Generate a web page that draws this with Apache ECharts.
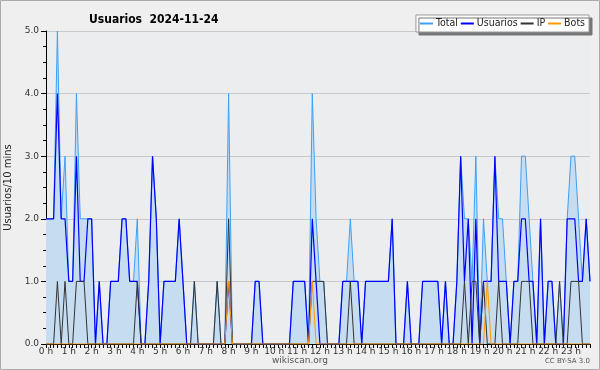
<!DOCTYPE html>
<html>
<head>
<meta charset="utf-8">
<script src="https://cdn.jsdelivr.net/npm/echarts@6/dist/echarts.min.js"></script>
<style>
html, body { margin: 0; padding: 0; background: #efefef; }
#main { width: 600px; height: 370px; }
</style>
</head>
<body>
<div id="main"></div>
<script>
// valores cada 10 minutos (144 puntos, 0:00 -> 23:50)
var total = [2,2,2,5,2,3,1,1,4,2,2,2,2,0,1,0,0,1,1,1,2,2,1,1,
             2,0,0,1,3,2,0,1,1,1,1,2,1,0,0,1,0,0,0,0,0,1,0,0,
             4,0,0,0,0,0,0,1,1,0,0,0,0,0,0,0,0,1,1,1,1,0,4,2,
             1,1,0,0,0,0,1,1,2,1,1,0,1,1,1,1,1,1,1,2,0,0,0,1,
             0,0,0,1,1,1,1,1,0,1,0,0,1,3,2,2,1,3,0,2,1,1,3,2,
             2,1,0,1,1,3,3,2,1,0,2,0,1,1,0,1,0,2,3,3,2,1,2,1];
var usuarios = [2,2,2,4,2,2,1,1,3,1,1,2,2,0,1,0,0,1,1,1,2,2,1,1,
                1,0,0,1,3,2,0,1,1,1,1,2,1,0,0,0,0,0,0,0,0,0,0,0,
                1,0,0,0,0,0,0,1,1,0,0,0,0,0,0,0,0,1,1,1,1,0,2,1,
                0,0,0,0,0,0,1,1,1,1,1,0,1,1,1,1,1,1,1,2,0,0,0,1,
                0,0,0,1,1,1,1,1,0,1,0,0,1,3,1,2,0,2,0,1,1,1,3,1,
                1,1,0,1,1,2,2,1,1,0,2,0,1,1,0,0,0,2,2,2,1,1,2,1];
var ip = [0,0,0,1,0,1,0,0,1,1,1,0,0,0,0,0,0,0,0,0,0,0,0,0,
          1,0,0,0,0,0,0,0,0,0,0,0,0,0,0,1,0,0,0,0,0,1,0,0,
          2,0,0,0,0,0,0,0,0,0,0,0,0,0,0,0,0,0,0,0,0,0,1,1,
          1,1,0,0,0,0,0,0,1,0,0,0,0,0,0,0,0,0,0,0,0,0,0,0,
          0,0,0,0,0,0,0,0,0,0,0,0,0,0,1,0,1,1,0,1,0,0,0,1,
          0,0,0,0,0,1,1,1,0,0,0,0,0,0,0,1,0,0,1,1,1,0,0,0];
var bots = [0,0,0,0,0,0,0,0,0,0,0,0,0,0,0,0,0,0,0,0,0,0,0,0,
            0,0,0,0,0,0,0,0,0,0,0,0,0,0,0,0,0,0,0,0,0,0,0,0,
            1,0,0,0,0,0,0,0,0,0,0,0,0,0,0,0,0,0,0,0,0,0,1,0,
            0,0,0,0,0,0,0,0,0,0,0,0,0,0,0,0,0,0,0,0,0,0,0,0,
            0,0,0,0,0,0,0,0,0,0,0,0,0,0,0,0,0,0,0,0,1,0,0,0,
            0,0,0,0,0,0,0,0,0,0,0,0,0,0,0,0,0,0,0,0,0,0,0,0];
var horas = ['0 h','1 h','2 h','3 h','4 h','5 h','6 h','7 h','8 h','9 h','10 h','11 h',
             '12 h','13 h','14 h','15 h','16 h','17 h','18 h','19 h','20 h','21 h','22 h','23 h'];
var minutos = ['00','10','20','30','40','50'];

var categorias = [];
for (var h = 0; h < horas.length; h++) {
	for (var m = 0; m < minutos.length; m++) {
		categorias.push(h + ':' + minutos[m]);
	}
}

var myChart = echarts.init(document.getElementById('main'));

var option = {
	backgroundColor: '#efefef',
	animation: false,
	title: {
		text: 'Usuarios  2024-11-24',
		left: 84,
		top: 9,
		textStyle: {
			fontFamily: 'DejaVu Sans Condensed, DejaVu Sans',
			fontSize: 12,
			fontWeight: 'bold',
			color: '#000'
		}
	},
	legend: {
		right: 11,
		top: 15,
		icon: 'rect',
		itemWidth: 13,
		itemHeight: 2,
		itemGap: 3,
		padding: [3, 4, 3, 4],
		backgroundColor: '#fff',
		borderColor: '#999',
		borderWidth: 1,
		shadowColor: '#777',
		shadowBlur: 0,
		shadowOffsetX: 3,
		shadowOffsetY: 3,
		textStyle: {
			fontFamily: 'DejaVu Sans Condensed, DejaVu Sans',
			fontSize: 10.5,
			color: '#222',
			padding: [0, 0, 0, -2]
		},
		data: ['Total', 'Usuarios', 'IP', 'Bots']
	},
	grid: {
		left: 46,
		right: 10,
		top: 31,
		bottom: 26,
		outerBoundsMode: 'none',
		containLabel: false,
		show: true,
		backgroundColor: '#ecedef',
		borderWidth: 0
	},
	xAxis: {
		type: 'category',
		boundaryGap: false,
		data: categorias,
		axisLine: { lineStyle: { color: '#000', width: 1 } },
		axisTick: { interval: 0, length: 4, lineStyle: { color: '#000' } },
		axisLabel: {
			interval: 5,
			margin: 3,
			fontSize: 9,
			color: '#333',
			fontFamily: 'DejaVu Sans',
			formatter: function (v, idx) { return horas[Math.floor(idx / 6)]; }
		},
		splitLine: { show: false }
	},
	yAxis: {
		type: 'value',
		min: 0,
		max: 5,
		interval: 1,
		name: 'Usuarios/10 mins',
		nameLocation: 'middle',
		nameRotate: 90,
		nameGap: 32,
		nameTextStyle: { fontSize: 10, color: '#222', fontFamily: 'DejaVu Sans' },
		axisLine: { show: true, lineStyle: { color: '#000', width: 1 } },
		axisTick: { show: true, length: 5, lineStyle: { color: '#000' } },
		minorTick: { show: true, splitNumber: 4, length: 3, lineStyle: { color: '#000' } },
		axisLabel: {
			fontSize: 9,
			color: '#333',
			margin: 7,
			fontFamily: 'DejaVu Sans',
			formatter: function (v) { return v.toFixed(1); }
		},
		splitLine: { show: true, lineStyle: { color: '#c8c9cc', width: 1 } }
	},
	graphic: [
		{
			type: 'text',
			left: 'center',
			top: 356,
			style: { text: 'wikiscan.org', fontSize: 9, fill: '#555', fontFamily: 'DejaVu Sans' }
		},
		{
			type: 'text',
			right: 10,
			top: 358,
			style: { text: 'CC BY-SA 3.0', fontSize: 7, fill: '#555', fontFamily: 'DejaVu Sans' }
		},
		{
			type: 'rect',
			shape: { x: 0.5, y: 0.5, width: 599, height: 369 },
			style: { fill: 'none', stroke: '#aaa', lineWidth: 1 },
			silent: true
		}
	],
	series: [
		{
			name: 'Total',
			type: 'line',
			data: total,
			symbol: 'none',
			lineStyle: { color: '#3ca0f5', width: 1 },
			itemStyle: { color: '#3ca0f5' },
			areaStyle: { color: '#c6dcf0', opacity: 1 }
		},
		{
			name: 'Usuarios',
			type: 'line',
			data: usuarios,
			symbol: 'none',
			lineStyle: { color: '#0000ff', width: 1.2 },
			itemStyle: { color: '#0000ff' }
		},
		{
			name: 'IP',
			type: 'line',
			data: ip,
			symbol: 'none',
			lineStyle: { color: '#333333', width: 1 },
			itemStyle: { color: '#333333' }
		},
		{
			name: 'Bots',
			type: 'line',
			data: bots,
			symbol: 'none',
			lineStyle: { color: '#ff9900', width: 1 },
			itemStyle: { color: '#ff9900' }
		}
	]
};

myChart.setOption(option);
</script>
</body>
</html>
